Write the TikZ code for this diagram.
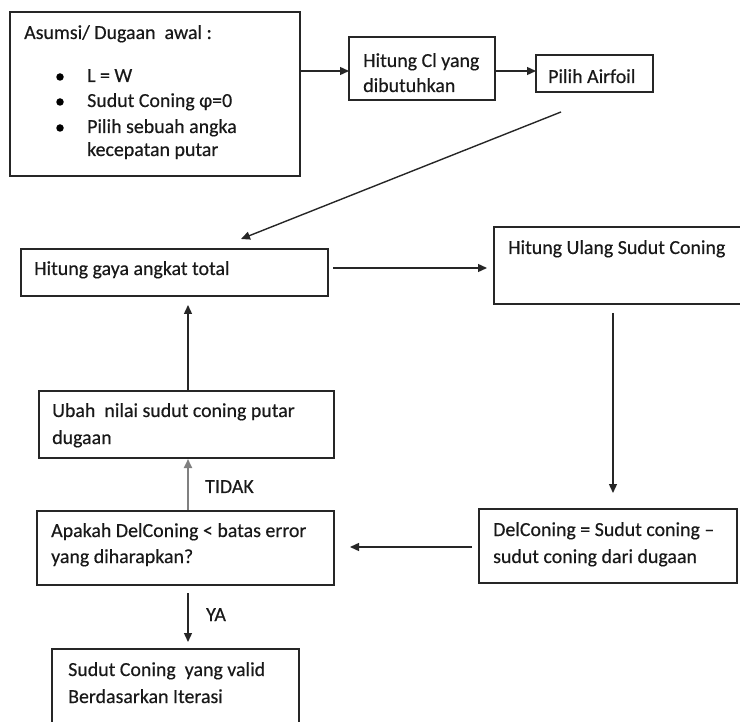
\documentclass[tikz,border=0pt]{standalone}
\usepackage{fontspec}
\setmainfont{Carlito}[FakeBold=0.4]
\usetikzlibrary{arrows.meta}
\begin{document}
\begin{tikzpicture}[x=1pt,y=-1pt,
  box/.style={draw=black!85,line width=1.4pt,anchor=north west,inner sep=0pt,outer sep=0pt},
  txt/.style={anchor=base west,inner sep=0pt,text=black!90,font=\fontsize{19.9}{24}\selectfont},
  dot/.style={circle,fill=black,inner sep=0pt,minimum size=7.5pt},
  arr/.style={draw=black!85,line width=1.4pt,-{Triangle[length=9pt,width=8pt]}},
  grayarr/.style={draw=black!50,line width=2.2pt,-{Triangle[length=9pt,width=8pt]},color=black!50}]
\useasboundingbox (0,0) rectangle (740,722);
\begin{scope}
\clip (0,0) rectangle (740,722);
% boxes
\node[box,minimum width=290pt,minimum height=164pt] (b1) at (10,12) {};
\node[box,minimum width=146pt,minimum height=63pt] (b2) at (349,37) {};
\node[box,minimum width=117pt,minimum height=37pt] (b3) at (536,55) {};
\node[box,minimum width=307pt,minimum height=47pt] (b4) at (21,249) {};
\node[box,minimum width=251pt,minimum height=77pt] (b5) at (494,227) {};
\node[box,minimum width=295pt,minimum height=67pt] (b6) at (39,391) {};
\node[box,minimum width=297pt,minimum height=74pt] (b7) at (37,511) {};
\node[box,minimum width=258pt,minimum height=74pt] (b8) at (479,509) {};
\node[box,minimum width=247pt,minimum height=85pt] (b9) at (52,649) {};
\end{scope}
% texts
\node[txt] (t1) at (24,39) {Asumsi/ Dugaan\ \ awal :};
\node[dot] (d1) at (60,77) {};
\node[dot] (d2) at (60,102) {};
\node[dot] (d3) at (60,128) {};
\node[txt] (t1a) at (87,82) {L = W};
\node[txt] (t1b) at (87,107) {Sudut Coning φ=0};
\node[txt] (t1c) at (87,133) {Pilih sebuah angka};
\node[txt] (t1d) at (87,156) {kecepatan putar};
\node[txt] (t2a) at (363,67) {Hitung Cl yang};
\node[txt] (t2b) at (363,92) {dibutuhkan};
\node[txt] (t3) at (548,83) {Pilih Airfoil};
\node[txt] (t4) at (34,275) {Hitung gaya angkat total};
\node[txt] (t5) at (508,254) {Hitung Ulang Sudut Coning};
\node[txt] (t6a) at (52,417) {Ubah\ \ nilai sudut coning putar};
\node[txt] (t6b) at (52,444) {dugaan};
\node[txt] (t7a) at (51,537) {Apakah DelConing < batas error};
\node[txt] (t7b) at (51,563) {yang diharapkan?};
\node[txt] (t8a) at (493,536) {DelConing = Sudut coning –};
\node[txt] (t8b) at (493,563) {sudut coning dari dugaan};
\node[txt] (t9a) at (68,676) {Sudut Coning\ \ yang valid};
\node[txt] (t9b) at (68,703) {Berdasarkan Iterasi};
\node[txt] (lt) at (205,493) {TIDAK};
\node[txt] (ly) at (206,621) {YA};
% free ends
\coordinate (c3s) at (561,112);
\coordinate (c4e) at (241,239);
\coordinate (c45s) at (333,268);
\coordinate (c45e) at (487,268);
\coordinate (c58s) at (613,313);
\coordinate (c58e) at (613,493);
\coordinate (c87s) at (472,547);
\coordinate (c87e) at (350,547);
\coordinate (c76s) at (188,510);
\coordinate (c76e) at (188,459);
\coordinate (c64s) at (188,390);
\coordinate (c64e) at (188,305);
\coordinate (c79s) at (188,593);
\coordinate (c79e) at (188,642);
% connectors
\draw[arr] (b1.east |- 0,71) -- (b2.west |- 0,71);
\draw[arr] (b2.east |- 0,71) -- (b3.west |- 0,71);
\draw[arr] (c3s) -- (c4e);
\draw[arr] (c45s) -- (c45e);
\draw[arr] (c58s) -- (c58e);
\draw[arr] (c87s) -- (c87e);
\draw[grayarr] (c76s) -- (c76e);
\draw[arr] (c64s) -- (c64e);
\draw[arr] (c79s) -- (c79e);
\end{tikzpicture}
\end{document}
